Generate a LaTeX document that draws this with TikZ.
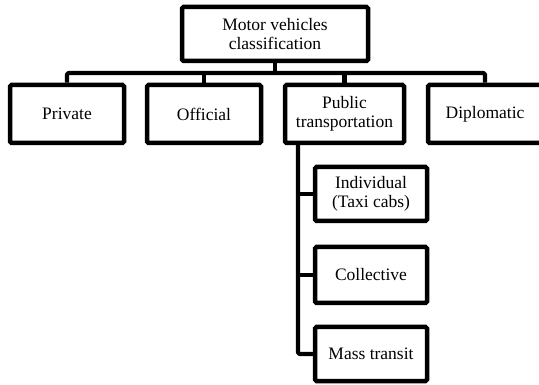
\documentclass[tikz,border=0pt]{standalone}
\usepackage{fontspec}
\setmainfont{Liberation Serif}
\begin{document}
\begin{tikzpicture}[x=1pt,y=-1pt,
  box/.style={draw=black,line width=4.5pt,rounded corners=1.5pt,align=center,
    inner sep=0pt,font=\fontsize{17.5}{19}\selectfont,text=black},
  conn/.style={draw=black,line width=4.2pt,line join=round,rounded corners=1.5pt}]
\useasboundingbox (0,0) rectangle (539,385);
\node[box,minimum width=186pt,minimum height=54pt] (top) at (275,34) {Motor vehicles\\classification};
\node[box,minimum width=114pt,minimum height=58pt] (private) at (67,114) {Private};
\node[box,minimum width=114pt,minimum height=58pt] (official) at (204,114) {Official};
\node[box,minimum width=119pt,minimum height=58pt] (public) at (344.5,114) {Public\\transportation};
\node[box,minimum width=114pt,minimum height=58pt] (dipl) at (485,114) {Diplomatic};
\node[box,minimum width=112pt,minimum height=54pt] (indiv) at (371,194) {Individual\\(Taxi cabs)};
\node[box,minimum width=112pt,minimum height=56pt] (coll) at (371,275) {Collective};
\node[box,minimum width=112pt,minimum height=54pt] (mass) at (371,354) {Mass transit};
\coordinate (bus) at (275,73);
\coordinate (trunk) at (298,143);
\draw[conn] (top.south) -- (bus);
\draw[conn] (private.north) |- (bus) -| (dipl.north);
\draw[conn] (official.north) -- (official.north |- bus);
\draw[conn] (public.north) -- (public.north |- bus);
\draw[conn] (trunk) |- (mass.west);
\draw[conn] (trunk |- indiv.west) -- (indiv.west);
\draw[conn] (trunk |- coll.west) -- (coll.west);
\end{tikzpicture}
\end{document}
